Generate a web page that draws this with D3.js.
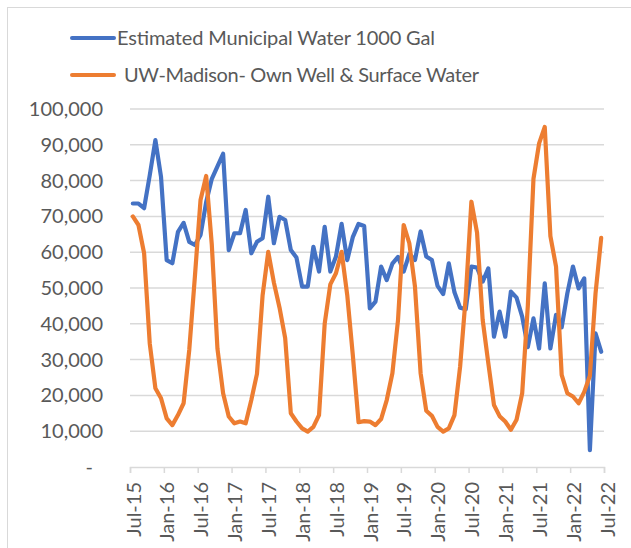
<!DOCTYPE html>
<html>
<head>
<meta charset="utf-8">
<script src="https://cdn.jsdelivr.net/npm/d3@7"></script>
<style>
  body { margin: 0; background: #fff; }
  svg { display: block; font-family: Lato, "Open Sans", sans-serif; }
</style>
</head>
<body>
<svg id="chart" width="631" height="548"></svg>
<script>
// monthly values, Jul-15 .. Jun-22 (84 months)
const MUNICIPAL = [
  73600, 73600, 72300, 81500, 91300, 81000,
  57800, 56900, 65700, 68200, 62900, 62000,
  64800, 74000, 80500, 84000, 87500, 60600,
  65300, 65300, 71800, 59700, 62900, 63900,
  75500, 62500, 69900, 69000, 60600, 58500,
  50400, 50400, 61500, 54600, 67100, 54600,
  58800, 67900, 57800, 64300, 67900, 67300,
  44300, 46200, 56000, 52200, 56800, 58700,
  54600, 59500, 57800, 65800, 58800, 57800,
  50600, 48300, 56900, 48800, 44500, 44100,
  56000, 55700, 51800, 55500, 36400, 43400,
  36400, 49000, 47300, 42000, 33500, 41500,
  33100, 51300, 33100, 42500, 39000, 48500,
  56000, 49900, 52700, 4700, 37300, 32200
];
const UW_OWN = [
  70000, 67600, 59700, 34500, 22000, 19200,
  13600, 11700, 14500, 17800, 32700, 53200,
  74600, 81300, 62000, 33000, 20600, 14100,
  12200, 12700, 12200, 18700, 26000, 48000,
  60100, 51500, 44500, 36000, 15000, 12700,
  10800, 9900, 11200, 14500, 40000, 51000,
  54100, 60100, 48000, 31000, 12500, 12800,
  12700, 11700, 13400, 18700, 26200, 41100,
  67600, 62500, 50400, 26200, 15700, 14300,
  11200, 9900, 10800, 14500, 28000, 47600,
  74100, 65500, 41100, 29000, 17300, 14200,
  12700, 10400, 13200, 20600, 45000, 80500,
  90400, 95000, 64500, 56000, 25700, 20600,
  19700, 17800, 21000, 25500, 48500, 64000
];
const SERIES_NAMES = ["Estimated Municipal Water 1000 Gal", "UW-Madison- Own Well & Surface Water"];
const X_TICK_LABELS = ["Jul-15", "Jan-16", "Jul-16", "Jan-17", "Jul-17", "Jan-18", "Jul-18", "Jan-19",
  "Jul-19", "Jan-20", "Jul-20", "Jan-21", "Jul-21", "Jan-22", "Jul-22"];
const Y_TICKS = [0, 10000, 20000, 30000, 40000, 50000, 60000, 70000, 80000, 90000, 100000];

const BLUE = "#4472c4", ORANGE = "#ed7d31", GRID = "#d9d9d9", TEXT = "#595959";

const svg = d3.select("#chart");

// outer chart border
svg.append("rect")
  .attr("x", 7.5).attr("y", 7.5)
  .attr("width", 640).attr("height", 560)
  .attr("fill", "none").attr("stroke", GRID).attr("stroke-width", 1);

const x = d3.scaleLinear().domain([0, MUNICIPAL.length]).range([130, 604]);
const y = d3.scaleLinear().domain([0, 100000]).range([467, 109]);

// gridlines
svg.append("g").selectAll("line")
  .data(Y_TICKS.filter(d => d > 0))
  .join("line")
  .attr("x1", x(0)).attr("x2", x(MUNICIPAL.length))
  .attr("y1", d => y(d)).attr("y2", d => y(d))
  .attr("stroke", GRID).attr("stroke-width", 1.5);

// y axis labels
const yAxis = svg.append("g")
  .attr("transform", `translate(${x(0)},0)`)
  .call(d3.axisLeft(y).tickValues(Y_TICKS).tickSize(0).tickPadding(27)
    .tickFormat(d => d === 0 ? "-" : d3.format(",")(d)));
yAxis.select(".domain").remove();
yAxis.selectAll("text")
  .attr("fill", TEXT).attr("font-size", 20).attr("font-family", "Lato, sans-serif")
  .attr("dx", d => d === 0 ? -10 : 0);

// x axis
const xAxis = svg.append("g")
  .attr("transform", `translate(0,${y(0)})`)
  .call(d3.axisBottom(x).tickValues(d3.range(0, MUNICIPAL.length + 1, 6)).tickSize(6)
    .tickFormat((d, i) => X_TICK_LABELS[i]));
xAxis.select(".domain").attr("stroke", GRID).attr("stroke-width", 1.5);
xAxis.selectAll(".tick line").attr("stroke", GRID).attr("stroke-width", 1.5);
xAxis.selectAll("text")
  .attr("fill", TEXT).attr("font-size", 20).attr("font-family", "Lato, sans-serif")
  .attr("transform", "rotate(-90)")
  .attr("text-anchor", "end")
  .attr("x", -15).attr("y", 3).attr("dy", "0.35em");

// lines
const line = d3.line()
  .x((d, i) => x(i + 0.5))
  .y(d => y(d));

[[MUNICIPAL, BLUE], [UW_OWN, ORANGE]].forEach(([vals, color]) => {
  svg.append("path")
    .datum(vals)
    .attr("d", line)
    .attr("fill", "none")
    .attr("stroke", color)
    .attr("stroke-width", 4.2)
    .attr("stroke-linejoin", "round")
    .attr("stroke-linecap", "round");
});

// legend
const legend = svg.append("g");
[[SERIES_NAMES[0], BLUE, 38, 117, 318], [SERIES_NAMES[1], ORANGE, 75, 124, 355]].forEach(([name, color, ly, tx, w]) => {
  legend.append("line")
    .attr("x1", 72).attr("x2", 114).attr("y1", ly).attr("y2", ly)
    .attr("stroke", color).attr("stroke-width", 4).attr("stroke-linecap", "round");
  const t = legend.append("text")
    .attr("x", tx).attr("y", ly).attr("dy", "0.35em")
    .attr("fill", TEXT).attr("font-size", 20)
    .text(name);
  // squeeze the spacing a little to match the narrower original face
  t.attr("textLength", w).attr("lengthAdjust", "spacing");
});
</script>
</body>
</html>
